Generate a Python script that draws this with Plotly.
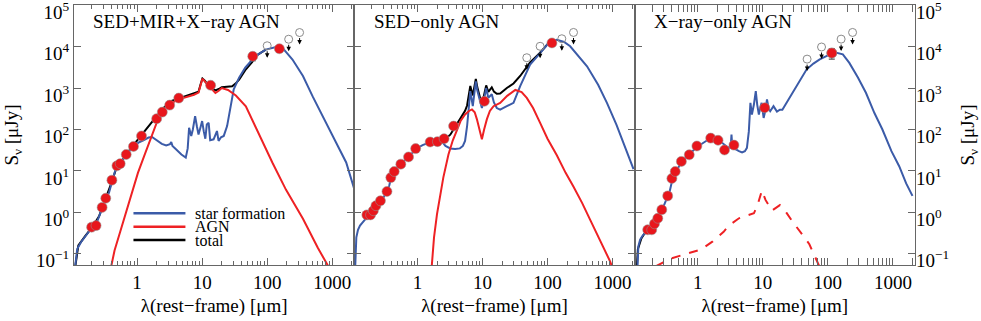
import numpy as np
import plotly.graph_objects as go
from plotly.subplots import make_subplots

# ---------------- panel 1: SED+MIR+X-ray AGN ----------------
p1_sf_lam = [0.11, 0.115, 0.12, 0.137, 0.16, 0.18, 0.20, 0.23, 0.26, 0.29, 0.33, 0.37, 0.41, 0.45,
             0.49, 0.55, 0.62, 0.70, 0.80, 0.90, 1.05, 1.25, 1.5, 1.7, 2.0, 2.4, 2.8, 3.2, 3.35,
             3.5, 4.0, 4.8, 5.6, 6.0, 6.3, 6.8, 7.2, 7.8, 8.3, 8.8, 9.4, 10.0, 10.6, 11.2, 11.8,
             12.6, 13.3, 15, 16.9, 17.9, 19.5, 21.5, 24.2, 27.4, 30.6, 37, 46, 66, 95, 137, 172,
             245, 355, 500, 720, 1150, 1640, 2300]
p1_sf_flux = [0.04, 0.08, 0.13, 0.19, 0.27, 0.35, 0.42, 0.48, 0.80, 1.3, 2.1, 3.0, 5.5, 9,
              13, 15.5, 20, 26, 33, 40, 48, 55, 64, 66, 55, 45, 41, 44, 50,
              40, 33, 25, 21, 35, 110, 70, 100, 210, 120, 76, 110, 160, 90, 60, 133,
              145, 55, 58, 92, 53, 65, 70, 121, 365, 930, 1780, 3100, 5900, 8500, 9800, 9300,
              4900, 1950, 630, 210, 48, 16, 2.8]
p1_agn_lam = [0.40, 0.45, 0.55, 0.7, 0.85, 1.03, 1.3, 1.57, 1.8, 2.12, 2.6, 3.4, 4.5, 6.2, 7.5,
              8.8, 9.5, 10.1, 11, 12.5, 14.2, 16, 18, 20, 25, 33, 47, 66, 90, 120, 195, 355,
              600, 870]
p1_agn_flux = [0.05, 0.12, 0.34, 1.2, 3.3, 9, 24, 53, 100, 186, 300, 440, 540, 630, 690,
               780, 1250, 1680, 1450, 1100, 930, 760, 860, 1000, 900, 660, 365, 120, 40, 16,
               3.5, 0.7, 0.14, 0.05]
p1_tot_lam = [0.11, 0.125, 0.16, 0.20, 0.26, 0.33, 0.41, 0.49, 0.62, 0.80, 1.0, 1.2, 1.5, 1.8,
              2.1, 2.6, 3.4, 4.5, 5.5, 6.2, 7.5, 8.8, 9.5, 10.1, 11, 12.5, 14.2, 16, 18, 20,
              24, 29, 33, 37, 46, 59, 66, 95]
p1_tot_flux = [0.04, 0.16, 0.27, 0.42, 0.80, 2.1, 5.5, 13, 20, 35, 55, 80, 120, 170,
               230, 340, 490, 570, 660, 700, 750, 820, 1260, 1700, 1500, 1150, 980, 880, 950,
               1050, 1080, 1100, 1300, 1600, 2700, 4300, 5900, 8500]
p1_det_lam = [0.20, 0.234, 0.29, 0.33, 0.41, 0.49, 0.55, 0.68, 0.88, 1.17, 2.0, 2.44, 3.17,
              4.37, 13.5, 60, 154]
p1_det_flux = [0.44, 0.48, 1.32, 2.2, 6.0, 13.3, 15, 25, 39, 70, 182, 263, 388, 573, 1170,
               5850, 8900]
p1_det_err = [0.05, 0.05, 0.15, 0.25, 0.7, 1.5, 1.7, 3, 4.5, 8, 20, 30, 45, 65, 130, 1300, 900]
p1_lim_lam = [100, 214, 315]
p1_lim_flux = [10500, 15100, 21900]

# ---------------- panel 2: SED-only AGN ----------------
p2_sf_lam = [0.11, 0.112, 0.115, 0.122, 0.131, 0.145, 0.157, 0.17, 0.19, 0.21, 0.23, 0.27,
             0.30, 0.34, 0.37, 0.39, 0.44, 0.50, 0.556, 0.65, 0.73, 0.85, 0.94, 1.2, 1.57, 2.0,
             2.4, 2.7, 3.2, 3.8, 4.5, 5.0, 5.4, 5.8, 6.1, 6.5, 7.1, 7.6, 7.9, 8.3, 8.7, 9.3,
             9.8, 10.5, 11.4, 12.3, 13.9, 15, 16.6, 18.7, 23.7, 30, 38, 54, 77, 110, 139, 180,
             223, 300, 405, 600, 820, 1150, 1480, 2100]
p2_sf_flux = [0.04, 0.15, 0.25, 0.38, 0.48, 0.58, 0.69, 0.78, 0.87, 1.0, 1.3, 1.8,
              2.3, 3.2, 4.5, 6.5, 9.5, 12.5, 14.6, 18, 22, 28, 34, 42, 49, 50,
              50, 40, 35, 34, 35, 40, 53, 120, 330, 840, 365, 900, 1450, 900, 710, 450,
              330, 500, 1000, 580, 710, 450, 330, 300, 365, 440, 1120, 3700, 7000, 13500, 14700,
              13000, 10200, 6000, 3350, 1200, 440, 130, 48, 11]
p2_agn_lam = [1.66, 1.8, 2.0, 2.25, 2.5, 3.0, 3.5, 4.0, 4.6, 5.4, 6.2, 6.9, 7.6, 8.2, 9.0, 9.8,
              10.6, 11.7, 13, 14.8, 18.7, 24, 32, 40, 48, 60, 77, 100, 139, 190, 250, 340, 455,
              650, 920, 1000]
p2_agn_flux = [0.05, 0.25, 0.91, 2.8, 6.9, 25, 55, 92, 160, 230, 280, 305, 260, 178, 100, 58,
               100, 178, 280, 365, 440, 650, 900, 800, 580, 330, 145, 60, 24, 9, 4.2, 1.7, 0.65,
               0.21, 0.065, 0.045]
p2_tot_lam = [2.0, 2.4, 2.7, 3.2, 3.8, 4.5, 5.0, 5.4, 5.8, 6.1, 6.5, 7.1, 7.6, 7.9, 8.3, 8.7,
              9.3, 9.8, 10.5, 11.4, 12.3, 13.9, 15, 16.6, 18.7, 23.7, 30, 38, 54, 77, 110]
p2_tot_flux = [51, 55, 60, 75, 114, 185, 235, 283, 380, 605, 1130, 665, 1160, 1670, 1070, 840,
               535, 390, 595, 1160, 810, 1040, 820, 730, 740, 1005, 1290, 1960, 4150, 7150, 13600]
p2_det_lam = [0.167, 0.19, 0.21, 0.23, 0.27, 0.34, 0.39, 0.44, 0.556, 0.73, 0.94, 1.57, 2.03,
              2.57, 3.6, 10.7, 117]
p2_det_flux = [0.87, 0.87, 1.1, 1.45, 1.9, 3.2, 6.9, 9.7, 14.6, 21.8, 34.6, 50, 51, 60, 121,
               480, 12300]
p2_det_err = [0.09, 0.09, 0.11, 0.15, 0.2, 0.3, 0.7, 1.0, 1.5, 2.2, 3.5, 5, 5, 6, 12, 50, 1200]
p2_lim_lam = [48, 77, 166, 251]
p2_lim_flux = [5400, 10200, 15500, 22000]

# ---------------- panel 3: X-ray-only AGN ----------------
p3_sf_lam = [0.118, 0.122, 0.13, 0.143, 0.16, 0.17, 0.196, 0.216, 0.243, 0.28, 0.31, 0.345,
             0.37, 0.40, 0.45, 0.50, 0.56, 0.65, 0.74, 0.85, 0.97, 1.2, 1.4, 1.6, 1.85, 2.12,
             2.5, 2.84, 3.2, 3.3, 3.4, 3.8, 4.3, 4.8, 5.3, 5.7, 6.1, 6.45, 6.8, 7.3, 7.8, 8.2,
             8.7, 9.2, 9.6, 10.3, 11.0, 11.6, 12.3, 13, 14.6, 16.5, 18.3, 20, 23.2, 27, 33, 40,
             47, 60, 75, 95, 127, 170, 214, 290, 385, 520, 690, 950, 1250, 1600, 2000]
p3_sf_flux = [0.04, 0.15, 0.22, 0.28, 0.33, 0.37, 0.45, 0.55, 0.72, 1.1, 1.6, 2.3,
              3.2, 5.5, 9, 12, 16, 21, 25, 31, 38, 48, 55, 60, 60, 55,
              44, 38, 36, 76, 37, 33, 30, 28, 30, 36, 90, 440, 230, 400, 840, 400,
              230, 350, 440, 190, 300, 530, 320, 277, 365, 270, 300, 300, 440, 640, 1100, 1850,
              2800, 3900, 4900, 5900, 7300, 6500, 4050, 1800, 770, 250, 100, 30, 13, 5, 2.5]
p3_agn_lam = [0.226, 0.38, 0.6, 1.1, 1.7, 2.5, 3.0, 4.3, 7.3, 8.3, 9.7, 11, 13.8, 18.3, 22, 29,
              40, 52, 74]
p3_agn_flux = [0.05, 0.076, 0.095, 0.125, 0.2, 0.34, 0.48, 0.72, 0.95, 1.5, 3.4, 2.0, 1.1, 1.5,
               1.1, 0.58, 0.3, 0.17, 0.05]
p3_tot_lam = [0.116, 0.12, 0.135, 0.15, 0.17, 0.2]
p3_tot_flux = [0.05, 0.13, 0.23, 0.3, 0.38, 0.45]
p3_det_lam = [0.17, 0.196, 0.216, 0.243, 0.28, 0.345, 0.40, 0.45, 0.56, 0.74, 0.97, 1.58, 2.05,
              2.58, 3.6, 10.7, 115]
p3_det_flux = [0.38, 0.38, 0.53, 0.72, 1.16, 2.5, 6.6, 9.7, 17, 24.5, 40, 62, 55, 32, 42, 335,
               7000]
p3_det_err = [0.04, 0.04, 0.05, 0.07, 0.12, 0.25, 0.7, 1.0, 1.7, 2.5, 4, 6, 5.5, 4, 4.5, 35, 2000]
p3_lim_lam = [48, 80, 160, 240]
p3_lim_flux = [5000, 9800, 15200, 22000]

panel_titles = ["SED+MIR+X−ray AGN", "SED−only AGN", "X−ray−only AGN"]
x_tick_vals = [1, 10, 100, 1000]
x_tick_text = ["1", "10", "100", "1000"]
y_tick_vals = [0.1, 1, 10, 100, 1e3, 1e4, 1e5]
y_tick_text = ["10<sup>−1</sup>", "10<sup>0</sup>", "10<sup>1</sup>", "10<sup>2</sup>",
               "10<sup>3</sup>", "10<sup>4</sup>", "10<sup>5</sup>"]
legend_names = ["star formation", "AGN", "total"]

BLUE = "#3b5ba8"
RED = "#ee2124"
AXIS = "#666666"
FONT = "Times New Roman, Liberation Serif, DejaVu Serif, serif"
X_RANGE = [-0.97, 3.34]
Y_RANGE = [-1.27, 5.005]

panels = [
    (p1_sf_lam, p1_sf_flux, p1_agn_lam, p1_agn_flux, p1_tot_lam, p1_tot_flux,
     p1_det_lam, p1_det_flux, p1_det_err, p1_lim_lam, p1_lim_flux, "solid"),
    (p2_sf_lam, p2_sf_flux, p2_agn_lam, p2_agn_flux, p2_tot_lam, p2_tot_flux,
     p2_det_lam, p2_det_flux, p2_det_err, p2_lim_lam, p2_lim_flux, "solid"),
    (p3_sf_lam, p3_sf_flux, p3_agn_lam, p3_agn_flux, p3_tot_lam, p3_tot_flux,
     p3_det_lam, p3_det_flux, p3_det_err, p3_lim_lam, p3_lim_flux, "dash"),
]

fig = make_subplots(rows=1, cols=3, horizontal_spacing=0)

minor_vals = [m * 10.0 ** e for e in range(-1, 4) for m in range(2, 10)]
marker_red = dict(color="#e8161c", size=10, line=dict(color="rgba(150,150,150,0.55)", width=1))

for i, (sl, sf, al, af, tl, tf, dl, df, de, ll, lf, adash) in enumerate(panels, start=1):
    fig.add_trace(go.Scatter(x=tl, y=tf, mode="lines", line=dict(color="black", width=2),
                             showlegend=False), row=1, col=i)
    fig.add_trace(go.Scatter(x=sl, y=sf, mode="lines", line=dict(color=BLUE, width=2),
                             showlegend=False), row=1, col=i)
    fig.add_trace(go.Scatter(x=al, y=af, mode="lines", line=dict(color=RED, width=2, dash=adash),
                             showlegend=False), row=1, col=i)
    fig.add_trace(go.Scatter(
        x=dl, y=df, mode="markers", marker=marker_red,
        error_y=dict(type="data", array=de, color="rgba(30,30,30,0.9)", thickness=1, width=3),
        showlegend=False), row=1, col=i)
    fig.add_trace(go.Scatter(
        x=ll, y=lf, mode="markers",
        marker=dict(symbol="circle-open", color="#8a8a8a", size=8, line=dict(width=1)),
        showlegend=False), row=1, col=i)
    xref = "x" if i == 1 else f"x{i}"
    yref = "y" if i == 1 else f"y{i}"
    for lam, flux in zip(ll, lf):
        fig.add_annotation(x=np.log10(lam), y=np.log10(flux), xref=xref, yref=yref, text="",
                           showarrow=True, arrowhead=2, arrowsize=0.9, arrowwidth=1,
                           arrowcolor="black", ax=0, ay=-8, yshift=-12)
    fig.add_annotation(x=0.062, y=0.936, xref=f"{xref} domain", yref=f"{yref} domain",
                       text=panel_titles[i - 1], showarrow=False, xanchor="left",
                       yanchor="middle", font=dict(size=19, color="black", family=FONT))

    fig.update_xaxes(type="log", range=X_RANGE, tickmode="array", tickvals=x_tick_vals,
                     ticktext=x_tick_text, ticks="inside", ticklen=7, tickwidth=1,
                     tickcolor=AXIS, showline=True, linecolor=AXIS, linewidth=1,
                     mirror="allticks", showgrid=False, zeroline=False, automargin=False,
                     minor=dict(ticks="inside", ticklen=4, tickcolor=AXIS, tickvals=minor_vals,
                                showgrid=False),
                     title=dict(text="λ(rest−frame) [μm]", font=dict(size=19, family=FONT),
                                standoff=6),
                     tickfont=dict(size=19, family=FONT), row=1, col=i)
    fig.update_yaxes(type="log", range=Y_RANGE, tickmode="array", tickvals=y_tick_vals,
                     ticktext=y_tick_text, ticks="inside", ticklen=7, tickwidth=1,
                     tickcolor=AXIS, showline=True, linecolor=AXIS, linewidth=1,
                     mirror="allticks", showgrid=False, zeroline=False, automargin=False,
                     ticklabeloverflow="allow", ticklabelshift=7,
                     showticklabels=(i == 1), tickfont=dict(size=19, family=FONT), row=1, col=i)

fig.update_yaxes(title=dict(text="S<sub>ν</sub> [μJy]", font=dict(size=19, family=FONT),
                            standoff=12), row=1, col=1)

# right-hand copy of the flux axis
fig.update_layout(yaxis4=dict(type="log", range=Y_RANGE, overlaying="y3", anchor="x3",
                              side="right", tickmode="array", tickvals=y_tick_vals,
                              ticktext=y_tick_text, ticks="", showline=False, showgrid=False,
                              zeroline=False, automargin=False,
                              ticklabeloverflow="allow", ticklabelshift=7,
                              tickfont=dict(size=19, family=FONT),
                              title=dict(text="S<sub>ν</sub> [μJy]",
                                         font=dict(size=19, family=FONT), standoff=12)))
fig.add_trace(go.Scatter(x=[p3_det_lam[-1]], y=[p3_det_flux[-1]], xaxis="x3", yaxis="y4",
                         mode="markers", marker=marker_red, showlegend=False, hoverinfo="skip"))

# hand-placed legend in the first panel
for name, color, ly in zip(legend_names, [BLUE, RED, "black"], [0.199, 0.147, 0.096]):
    fig.add_shape(type="line", xref="paper", yref="paper", x0=0.0707, x1=0.1325, y0=ly, y1=ly,
                  line=dict(color=color, width=2.5))
    fig.add_annotation(x=0.142, y=ly, xref="paper", yref="paper", text=name, showarrow=False,
                       xanchor="left", yanchor="middle", height=13,
                       font=dict(size=16, color="black", family=FONT))

fig.update_layout(
    width=981, height=321,
    margin=dict(l=74, r=66, t=5, b=56),
    paper_bgcolor="white", plot_bgcolor="white",
    font=dict(family=FONT, color="black", size=19),
    showlegend=False,
)

fig.write_html("out.html", config={"displayModeBar": False},
               post_script="document.body.style.margin='0';")
